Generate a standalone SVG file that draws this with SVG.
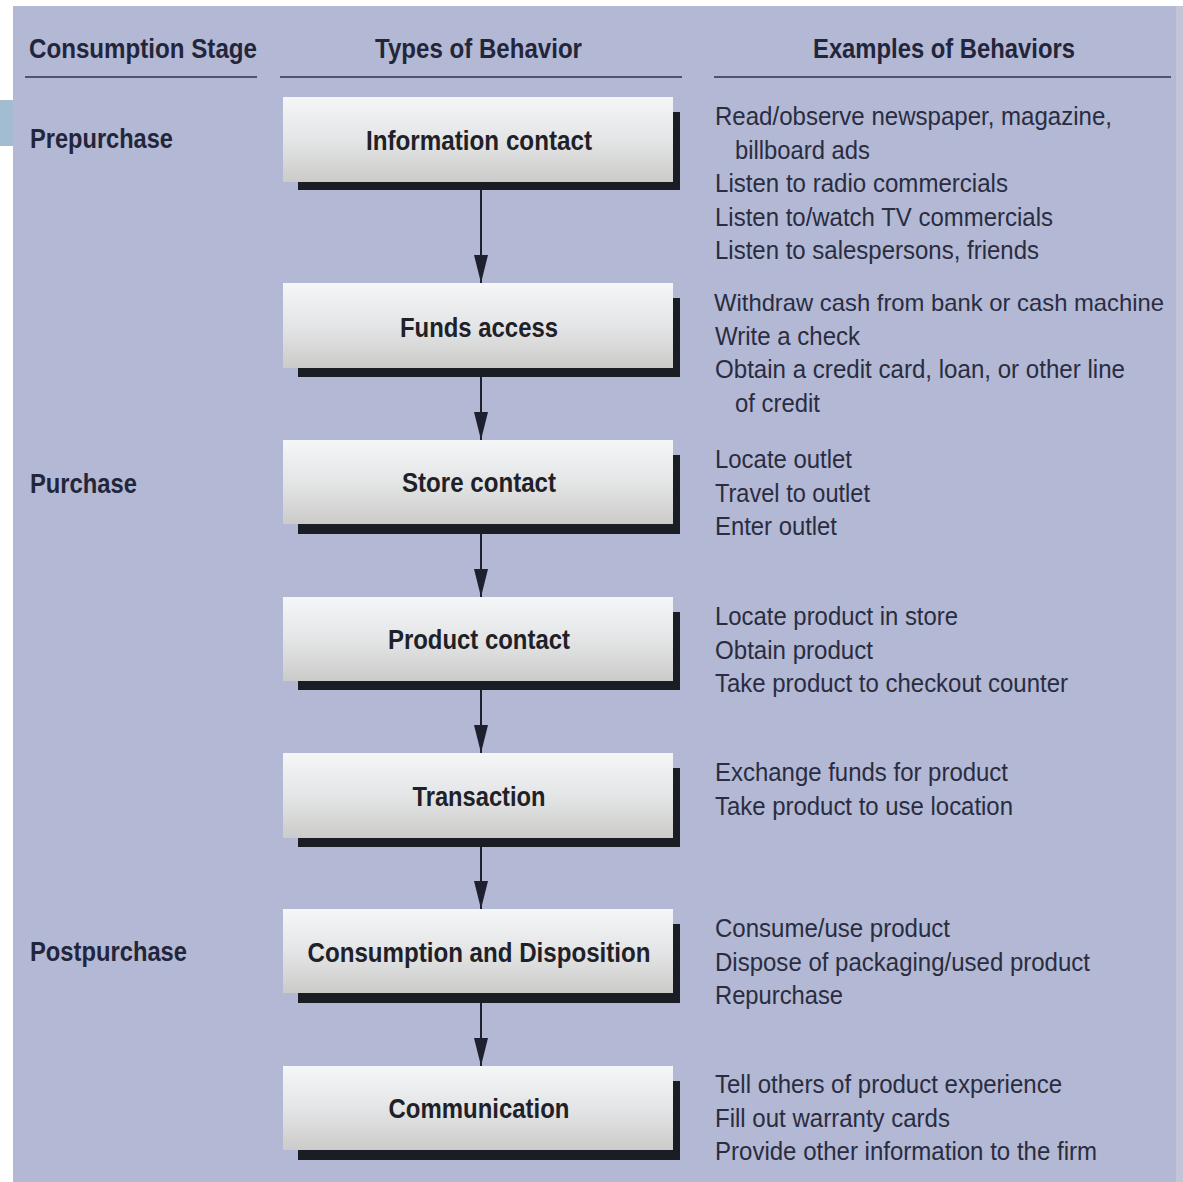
<svg xmlns="http://www.w3.org/2000/svg" width="1183" height="1182" viewBox="0 0 1183 1182">
<style>
.hdr{font-family:"Liberation Sans",Arial,sans-serif;font-weight:bold;font-size:27px;fill:#23263a}
.stage{font-family:"Liberation Sans",Arial,sans-serif;font-weight:bold;font-size:27px;fill:#23263a}
.lbl{font-family:"Liberation Sans",Arial,sans-serif;font-weight:bold;font-size:27px;fill:#1f2128;text-anchor:middle}
.ex{font-family:"Liberation Sans",Arial,sans-serif;font-size:26px;fill:#2a2d40}
.rule{stroke:#2e3250;stroke-width:1.6}
.box{fill:url(#boxg)}
.shadow{fill:#1b1d24}
.conn{stroke:#1e2030;stroke-width:2;fill:none;marker-end:url(#arr)}
</style>
<defs>
<linearGradient id="boxg" x1="0" y1="0" x2="0" y2="1">
<stop offset="0" stop-color="#f5f6f8"/>
<stop offset="0.5" stop-color="#e4e5e6"/>
<stop offset="1" stop-color="#cbccc9"/>
</linearGradient>
<marker id="arr" viewBox="0 0 28 14" refX="28" refY="7" markerWidth="28" markerHeight="14" markerUnits="userSpaceOnUse" orient="auto">
<path d="M0,0 L28,7 L0,14 z" fill="#1e2030"/>
</marker>
</defs>
<rect x="0" y="0" width="1183" height="1182" fill="#ffffff"/>
<rect x="13" y="6" width="1170" height="1176" fill="#b3b8d5"/>
<rect x="1176" y="6" width="7" height="1176" fill="#c3c5d6"/>
<rect x="0" y="100" width="13" height="46" fill="#a2bcd2"/>

<g id="headers">
<text class="hdr" x="29" y="58" textLength="228" lengthAdjust="spacingAndGlyphs">Consumption Stage</text>
<text class="hdr" x="375" y="58" textLength="207" lengthAdjust="spacingAndGlyphs">Types of Behavior</text>
<text class="hdr" x="813" y="58" textLength="262" lengthAdjust="spacingAndGlyphs">Examples of Behaviors</text>
<line class="rule" x1="25" y1="77" x2="257" y2="77"/>
<line class="rule" x1="280" y1="77" x2="682" y2="77"/>
<line class="rule" x1="714" y1="77" x2="1171" y2="77"/>
</g>

<g id="stages">
<text class="stage" x="30" y="148" textLength="143" lengthAdjust="spacingAndGlyphs">Prepurchase</text>
<text class="stage" x="30" y="493" textLength="107" lengthAdjust="spacingAndGlyphs">Purchase</text>
<text class="stage" x="30" y="961" textLength="157" lengthAdjust="spacingAndGlyphs">Postpurchase</text>
</g>

<g id="connectors">
<line class="conn" x1="481" y1="190" x2="481" y2="283"/>
<line class="conn" x1="481" y1="377" x2="481" y2="440"/>
<line class="conn" x1="481" y1="534" x2="481" y2="597"/>
<line class="conn" x1="481" y1="690" x2="481" y2="753"/>
<line class="conn" x1="481" y1="847" x2="481" y2="909"/>
<line class="conn" x1="481" y1="1003" x2="481" y2="1066"/>
</g>

<g id="node-information-contact">
<rect class="shadow" x="298" y="112" width="382" height="78"/>
<rect class="box" x="283" y="97" width="390" height="85"/>
<text class="lbl" x="479" y="150" textLength="226" lengthAdjust="spacingAndGlyphs">Information contact</text>
</g>
<g id="node-funds-access">
<rect class="shadow" x="298" y="298" width="382" height="79"/>
<rect class="box" x="283" y="283" width="390" height="85"/>
<text class="lbl" x="479" y="337" textLength="158" lengthAdjust="spacingAndGlyphs">Funds access</text>
</g>
<g id="node-store-contact">
<rect class="shadow" x="298" y="455" width="382" height="79"/>
<rect class="box" x="283" y="440" width="390" height="84"/>
<text class="lbl" x="479" y="492" textLength="154" lengthAdjust="spacingAndGlyphs">Store contact</text>
</g>
<g id="node-product-contact">
<rect class="shadow" x="298" y="612" width="382" height="78"/>
<rect class="box" x="283" y="597" width="390" height="84"/>
<text class="lbl" x="479" y="649" textLength="182" lengthAdjust="spacingAndGlyphs">Product contact</text>
</g>
<g id="node-transaction">
<rect class="shadow" x="298" y="768" width="382" height="79"/>
<rect class="box" x="283" y="753" width="390" height="85"/>
<text class="lbl" x="479" y="806" textLength="133" lengthAdjust="spacingAndGlyphs">Transaction</text>
</g>
<g id="node-consumption-disposition">
<rect class="shadow" x="298" y="924" width="382" height="79"/>
<rect class="box" x="283" y="909" width="390" height="84"/>
<text class="lbl" x="479" y="962" textLength="343" lengthAdjust="spacingAndGlyphs">Consumption and Disposition</text>
</g>
<g id="node-communication">
<rect class="shadow" x="298" y="1081" width="382" height="79"/>
<rect class="box" x="283" y="1066" width="390" height="84"/>
<text class="lbl" x="479" y="1118" textLength="181" lengthAdjust="spacingAndGlyphs">Communication</text>
</g>

<g id="examples">
<text class="ex" x="715" y="125" textLength="397" lengthAdjust="spacingAndGlyphs">Read/observe newspaper, magazine,</text>
<text class="ex" x="735" y="158.5" textLength="135" lengthAdjust="spacingAndGlyphs">billboard ads</text>
<text class="ex" x="715" y="192" textLength="293" lengthAdjust="spacingAndGlyphs">Listen to radio commercials</text>
<text class="ex" x="715" y="225.5" textLength="338" lengthAdjust="spacingAndGlyphs">Listen to/watch TV commercials</text>
<text class="ex" x="715" y="259" textLength="324" lengthAdjust="spacingAndGlyphs">Listen to salespersons, friends</text>

<text class="ex" x="714" y="311" style="font-size:24px" textLength="450" lengthAdjust="spacingAndGlyphs">Withdraw cash from bank or cash machine</text>
<text class="ex" x="715" y="344.5" textLength="145" lengthAdjust="spacingAndGlyphs">Write a check</text>
<text class="ex" x="715" y="378" textLength="410" lengthAdjust="spacingAndGlyphs">Obtain a credit card, loan, or other line</text>
<text class="ex" x="735" y="411.5" textLength="85" lengthAdjust="spacingAndGlyphs">of credit</text>

<text class="ex" x="715" y="468" textLength="137" lengthAdjust="spacingAndGlyphs">Locate outlet</text>
<text class="ex" x="715" y="501.5" textLength="155" lengthAdjust="spacingAndGlyphs">Travel to outlet</text>
<text class="ex" x="715" y="535" textLength="122" lengthAdjust="spacingAndGlyphs">Enter outlet</text>

<text class="ex" x="715" y="625" textLength="243" lengthAdjust="spacingAndGlyphs">Locate product in store</text>
<text class="ex" x="715" y="658.5" textLength="158" lengthAdjust="spacingAndGlyphs">Obtain product</text>
<text class="ex" x="715" y="692" textLength="353" lengthAdjust="spacingAndGlyphs">Take product to checkout counter</text>

<text class="ex" x="715" y="781" textLength="293" lengthAdjust="spacingAndGlyphs">Exchange funds for product</text>
<text class="ex" x="715" y="814.5" textLength="298" lengthAdjust="spacingAndGlyphs">Take product to use location</text>

<text class="ex" x="715" y="937" textLength="235" lengthAdjust="spacingAndGlyphs">Consume/use product</text>
<text class="ex" x="715" y="970.5" textLength="375" lengthAdjust="spacingAndGlyphs">Dispose of packaging/used product</text>
<text class="ex" x="715" y="1004" textLength="128" lengthAdjust="spacingAndGlyphs">Repurchase</text>

<text class="ex" x="715" y="1093" textLength="347" lengthAdjust="spacingAndGlyphs">Tell others of product experience</text>
<text class="ex" x="715" y="1126.5" textLength="235" lengthAdjust="spacingAndGlyphs">Fill out warranty cards</text>
<text class="ex" x="715" y="1160" textLength="382" lengthAdjust="spacingAndGlyphs">Provide other information to the firm</text>
</g>
</svg>
